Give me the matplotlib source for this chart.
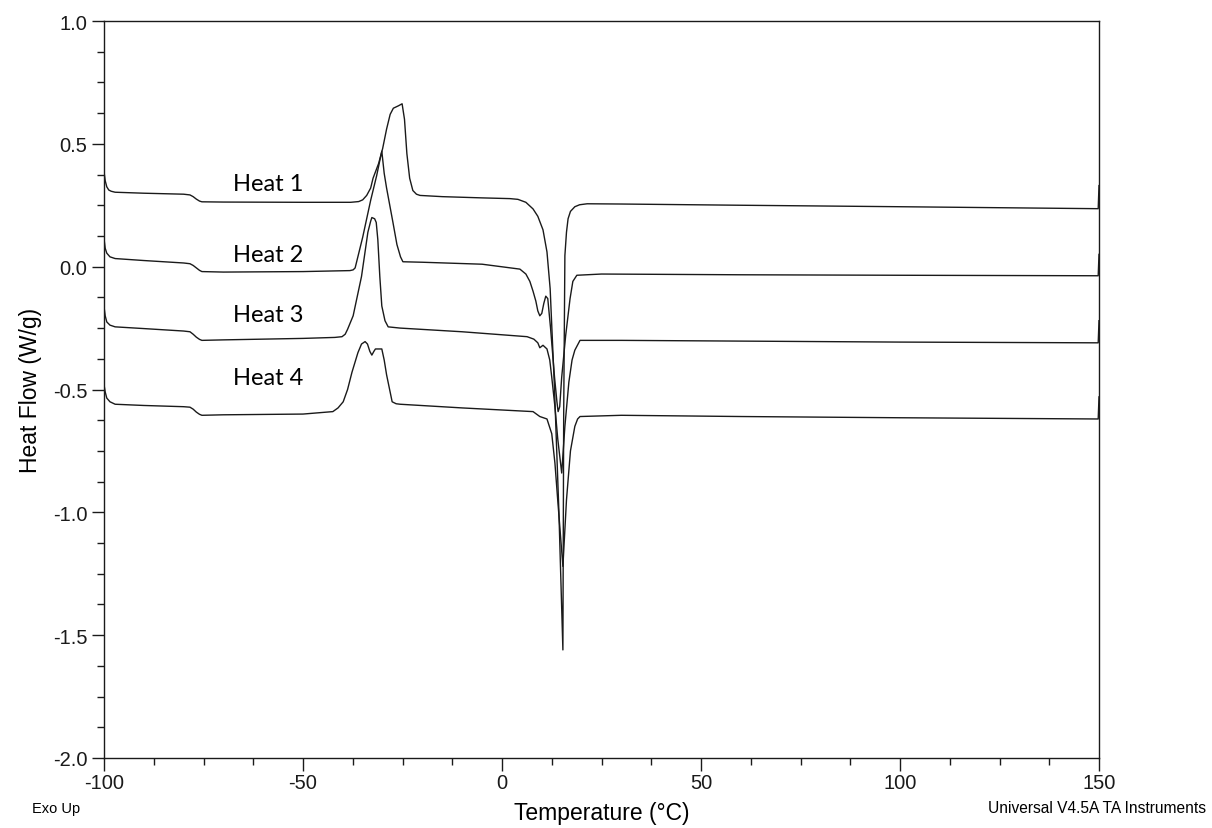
import matplotlib
matplotlib.use("Agg")
import matplotlib.pyplot as plt
from matplotlib.ticker import MultipleLocator

# DSC heating scans, temperature in degC, heat flow in W/g (curves offset)
temp_1 = [-100, -99.7, -99.3, -98.8, -98.2, -97.2, -90, -80, -78.4, -77.6, -76.8, -76.0, -75.4,
          -70, -50, -38, -36, -35, -34, -33, -32.4, -31, -30, -29, -28.1, -27.3, -26, -25.1,
          -24.5, -23.9, -23.2, -22.4, -21.5, -20.6, -15, -5, 2, 4, 6, 7.8, 9.0, 10.3, 11.3,
          12.1, 13.2, 14.3, 15.3, 15.5, 15.8, 16.2, 16.6, 17.2, 18.3, 19.5, 21.4, 30, 60, 100,
          149.8, 150]
flow_1 = [0.387, 0.35, 0.325, 0.312, 0.307, 0.303, 0.299, 0.295, 0.292, 0.285, 0.275, 0.267, 0.264,
          0.263, 0.262, 0.262, 0.265, 0.272, 0.29, 0.32, 0.36, 0.42, 0.48, 0.56, 0.62, 0.645, 0.655, 0.663,
          0.6, 0.46, 0.36, 0.31, 0.295, 0.29, 0.285, 0.28, 0.277, 0.274, 0.262, 0.235, 0.205, 0.15, 0.06,
          -0.09, -0.5, -1.0, -1.56, -0.6, 0.045, 0.14, 0.195, 0.225, 0.244, 0.252, 0.256, 0.255, 0.25, 0.244,
          0.236, 0.33]

temp_2 = [-100, -99.7, -99.3, -98.5, -97.2, -90, -80, -78.4, -77.6, -76.8, -76.0, -75.4, -70,
          -50, -38.2, -37.4, -36.9, -35, -33, -31.5, -30.6, -30.2, -29.6, -29, -27.4, -26.4,
          -25.5, -24.9, -20, -5, 4.5, 6, 7, 7.8, 8.5, 9.0, 9.5, 10.0, 10.5, 11.0, 11.5, 12.2,
          13.2, 13.8, 14.1, 14.5, 15, 16, 17.1, 17.8, 18.8, 25, 60, 100, 149.8, 150]
flow_2 = [0.114, 0.075, 0.055, 0.04, 0.033, 0.025, 0.015, 0.012, 0.005, -0.005, -0.015, -0.02, -0.022,
          -0.02, -0.016, -0.013, -0.005, 0.12, 0.27, 0.37, 0.44, 0.47, 0.38, 0.32, 0.18, 0.09,
          0.04, 0.02, 0.018, 0.01, -0.01, -0.03, -0.06, -0.10, -0.14, -0.18, -0.2, -0.19, -0.15, -0.12, -0.13, -0.25,
          -0.45, -0.55, -0.59, -0.57, -0.45, -0.28, -0.13, -0.06, -0.035, -0.03, -0.033, -0.035, -0.037, 0.05]

temp_3 = [-100, -99.7, -99.3, -98.5, -97.2, -90, -80, -78.4, -77.6, -76.8, -76.0, -75.4, -70,
          -50, -42, -40.2, -39.4, -38.8, -37.4, -35.3, -33.7, -33.0, -32.7, -32, -31.6, -31.2,
          -30.7, -30.2, -29.4, -28.6, -25.6, -10, 6.3, 8.0, 9.0, 9.5, 10.3, 11.3, 12.0, 12.5,
          13.3, 14, 15.0, 15.8, 16.8, 17.6, 18.3, 19.6, 30, 60, 100, 149.8, 150]
flow_3 = [-0.163, -0.2, -0.225, -0.238, -0.245, -0.252, -0.262, -0.265, -0.275, -0.287, -0.296, -0.30, -0.298,
          -0.292, -0.288, -0.285, -0.275, -0.255, -0.20, -0.04, 0.14, 0.185, 0.20, 0.195, 0.18, 0.11,
          -0.04, -0.16, -0.22, -0.245, -0.25, -0.265, -0.285, -0.295, -0.31, -0.33, -0.32, -0.335, -0.38, -0.45,
          -0.57, -0.7, -0.84, -0.65, -0.47, -0.38, -0.34, -0.30, -0.30, -0.303, -0.307, -0.31, -0.22]

temp_4 = [-100, -99.7, -99.3, -98.5, -97.2, -90, -80, -78.4, -77.6, -76.8, -76.0, -75.4, -70,
          -50, -42.5, -41.2, -39.9, -38.8, -37.7, -36.2, -35.3, -34.4, -33.8, -33.2, -32.7, -32.2,
          -31.8, -30.2, -29.6, -29, -27.6, -26.6, -25.6, -10, 7.8, 9.5, 11.3, 12.5, 13.3, 14,
          15.3, 16.2, 17.2, 18.3, 19.0, 19.6, 30, 60, 100, 149.8, 150]
flow_4 = [-0.48, -0.51, -0.535, -0.55, -0.56, -0.565, -0.57, -0.572, -0.58, -0.592, -0.601, -0.605, -0.603,
          -0.6, -0.59, -0.575, -0.55, -0.50, -0.43, -0.35, -0.315, -0.305, -0.315, -0.345, -0.36, -0.345,
          -0.335, -0.335, -0.38, -0.44, -0.55, -0.558, -0.56, -0.575, -0.59, -0.61, -0.62, -0.68, -0.8, -0.95,
          -1.22, -0.95, -0.75, -0.65, -0.62, -0.61, -0.605, -0.61, -0.615, -0.62, -0.53]

labels = ["Heat 1", "Heat 2", "Heat 3", "Heat 4"]
label_x = [-67.6, -67.6, -67.6, -67.6]
label_y = [0.34, 0.05, -0.195, -0.45]

plt.rcParams['font.family'] = ['Liberation Sans', 'DejaVu Sans']
plt.rcParams['axes.unicode_minus'] = False

fig = plt.figure(figsize=(12.12, 8.29), dpi=100)
ax = fig.add_axes([104 / 1212, 1 - 759 / 829, 995 / 1212, 737 / 829])

for t, f in [(temp_1, flow_1), (temp_2, flow_2), (temp_3, flow_3), (temp_4, flow_4)]:
    ax.plot(t, f, color='#1a1a1a', linewidth=1.0)

for txt, x, y in zip(labels, label_x, label_y):
    ax.text(x, y, txt, fontsize=17, ha='left', va='center', family=['Lato', 'DejaVu Sans'])

ax.set_xlim(-100, 150)
ax.set_ylim(-2.0, 1.0)
ax.xaxis.set_major_locator(MultipleLocator(50))
ax.xaxis.set_minor_locator(MultipleLocator(12.5))
ax.yaxis.set_major_locator(MultipleLocator(0.5))
ax.yaxis.set_minor_locator(MultipleLocator(0.125))
ax.yaxis.set_major_formatter(plt.FormatStrFormatter('%.1f'))

ax.tick_params(which='both', direction='out', top=False, right=False, labelsize=14.5, colors='#1a1a1a')
ax.tick_params(which='major', length=9, width=1)
ax.tick_params(which='minor', length=5, width=1)
ax.tick_params(axis='x', pad=2)
ax.tick_params(axis='y', pad=3)
for s in ax.spines.values():
    s.set_color('#1a1a1a')
    s.set_linewidth(1)

ax.set_xlabel('Temperature (°C)', fontsize=16.5, labelpad=6)
ax.set_ylabel('Heat Flow (W/g)', fontsize=16.5, labelpad=8)

fig.text(32 / 1212, 1 - 809 / 829, 'Exo Up', fontsize=10.5, ha='left', va='center')
fig.text(1206 / 1212, 1 - 809 / 829, 'Universal V4.5A TA Instruments', fontsize=11.2, ha='right', va='center')

fig.savefig('out.png', dpi=100)
